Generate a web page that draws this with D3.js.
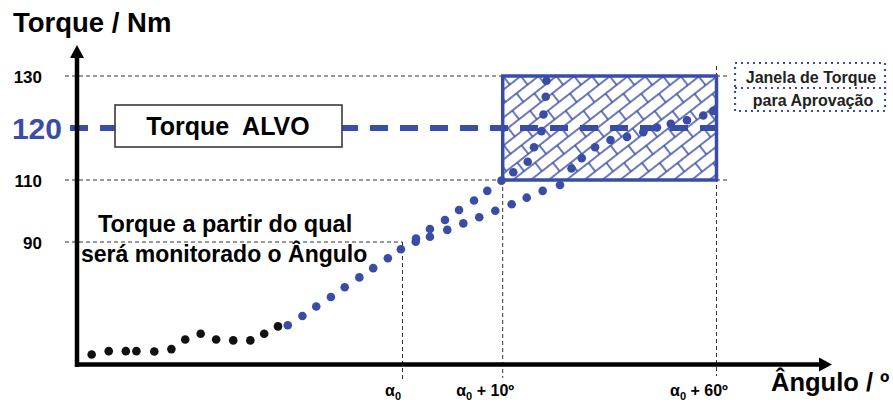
<!DOCTYPE html>
<html><head><meta charset="utf-8">
<script src="https://cdn.jsdelivr.net/npm/d3@7"></script>
<style>
html,body{margin:0;padding:0;background:#fff;}
svg text{font-family:"Liberation Sans",Arial,sans-serif;font-weight:bold;}
</style></head>
<body><svg id="chart" width="893" height="406"></svg>
<script>
// ---- data ----
const blackAngle  = [-38.2,-36.1,-34.0,-32.7,-30.5,-28.4,-26.7,-24.8,-22.9,-20.8,-18.7,-17.0,-15.3];
const blackTorque = [7.4,9.8,9.8,9.8,9.6,11.3,18.4,22.6,18.4,17.7,17.7,22.6,28.0];
const rampAngle   = [-14.1,-12.3,-10.6,-8.8,-7.1,-5.3,-3.6,-1.8,-0.2];
const rampTorque  = [28.8,35.6,42.6,49.6,56.8,64.0,70.8,78.1,84.7];
const upperAngle  = [1.35,2.74,4.24,5.64,7.14,8.46,9.88,12.48,15.85,17.32,19.07,19.54,20.06,20.24];
const upperTorque = [91.1,94.2,97.1,100.3,103.4,106.5,109.8,111.5,113.5,116.3,119.4,122.6,126.0,129.1];
const lowerAngle  = [1.32,2.74,4.47,6.07,7.66,9.26,12.10,15.61,19.35,23.40,26.09,28.48,31.59,35.21,39.07,42.88,46.08,49.31,53.10,56.91,59.25];
const lowerTorque = [90.1,91.7,93.9,96.0,98.0,100.1,102.2,104.3,106.5,108.4,112.2,114.2,116.3,117.7,118.3,119.2,120.1,120.8,121.5,122.4,123.3];
const yTicks = [90,110,120,130];
const targetTorque = 120;
const monitorTorque = 90;
const windowAngle = [10,60];
const windowTorque = [110,130];
const xTicks = [0,10,60];
const xTickSuffix = [""," + 10º"," + 60º"];

// ---- scales ----
const BLUE = "#3a4da6";
const svg = d3.select("#chart");
const x = d3.scaleLinear().domain([-40,0,10,60]).range([77,402.5,502.7,716.5]);
const y = d3.scaleLinear().domain([0,90,110,130]).range([364.5,242,180,76]);

// ---- pattern (diagonal brick) ----
const defs = svg.append("defs");
const L = 28, H = 11;
const pat = defs.append("pattern").attr("id","brick").attr("patternUnits","userSpaceOnUse")
  .attr("width",L).attr("height",2*H).attr("patternTransform","translate(503,76) rotate(-38)");
pat.append("rect").attr("width",L).attr("height",2*H).attr("fill","#fff");
pat.append("path").attr("fill","none").attr("stroke",BLUE).attr("stroke-width",1.5)
  .attr("d",`M-1,0H${L+1}M-1,${H}H${L+1}M-1,${2*H}H${L+1}M0,0V${H}M${L},0V${H}M${L/2},${H}V${2*H}`);

// ---- gridlines ----
const grid = svg.append("g").attr("stroke","#333").attr("stroke-width",1).attr("stroke-dasharray","4,3").attr("fill","none");
grid.append("line").attr("x1",65).attr("x2",730).attr("y1",y(130)).attr("y2",y(130));
grid.append("line").attr("x1",65).attr("x2",728).attr("y1",y(110)).attr("y2",y(110));
grid.append("line").attr("x1",65).attr("x2",x(0)).attr("y1",y(monitorTorque)).attr("y2",y(monitorTorque));
grid.append("line").attr("x1",x(0)).attr("x2",x(0)).attr("y1",y(monitorTorque)).attr("y2",382);
grid.append("line").attr("x1",x(10)).attr("x2",x(10)).attr("y1",y(110)).attr("y2",378);
grid.append("line").attr("x1",x(60)).attr("x2",x(60)).attr("y1",66).attr("y2",376);

// ---- approval window fill ----
svg.append("rect").attr("x",x(windowAngle[0])).attr("y",y(windowTorque[1]))
  .attr("width",x(windowAngle[1])-x(windowAngle[0])).attr("height",y(windowTorque[0])-y(windowTorque[1]))
  .attr("fill","url(#brick)");

// ---- target line ----
svg.append("line").attr("x1",70).attr("x2",x(60)).attr("y1",y(targetTorque)).attr("y2",y(targetTorque))
  .attr("stroke",BLUE).attr("stroke-width",6).attr("stroke-dasharray","18,12");

// ---- dots ----
function dots(ax, ty, color){
  svg.append("g").selectAll("circle").data(ax.map((a,i)=>[a,ty[i]])).join("circle")
    .attr("cx",d=>x(d[0])).attr("cy",d=>y(d[1])).attr("r",4.3).attr("fill",color);
}
dots(blackAngle,blackTorque,"#111");
dots(rampAngle,rampTorque,BLUE);
dots(upperAngle,upperTorque,BLUE);
dots(lowerAngle,lowerTorque,BLUE);

// ---- window border ----
svg.append("rect").attr("x",x(windowAngle[0])).attr("y",y(windowTorque[1]))
  .attr("width",x(windowAngle[1])-x(windowAngle[0])).attr("height",y(windowTorque[0])-y(windowTorque[1]))
  .attr("fill","none").attr("stroke",BLUE).attr("stroke-width",3.5);

// ---- axes lines with arrows ----
svg.append("line").attr("x1",77).attr("x2",77).attr("y1",367).attr("y2",56).attr("stroke","#000").attr("stroke-width",4.5);
svg.append("path").attr("d","M77,45L84,58L70,58Z").attr("fill","#000");
svg.append("line").attr("x1",75).attr("x2",820).attr("y1",364.5).attr("y2",364.5).attr("stroke","#000").attr("stroke-width",4.5);
svg.append("path").attr("d","M832,364.5L819,357.5L819,371.5Z").attr("fill","#000");

// ---- y axis ticks ----
const yAxis = svg.append("g").attr("transform","translate(45,0)")
  .call(d3.axisLeft(y).tickValues(yTicks).tickSize(0).tickPadding(3));
yAxis.select(".domain").remove();
yAxis.selectAll(".tick text").attr("fill","#000").attr("font-size",17)
  .attr("font-family","Liberation Sans, Arial, sans-serif").attr("font-weight","bold").attr("dy","0.4em");
yAxis.selectAll(".tick").filter(d=>d===targetTorque).select("text")
  .attr("fill",BLUE).attr("font-size",30).attr("x",17).attr("dy","0.35em");

// ---- x axis ticks ----
const xAxis = svg.append("g").attr("transform","translate(0,364.5)")
  .call(d3.axisBottom(x).tickValues(xTicks).tickSize(0).tickFormat(""));
xAxis.select(".domain").remove();
xAxis.selectAll(".tick").each(function(d,i){
  const t = d3.select(this).append("text").attr("fill","#000").attr("font-size",16)
    .attr("text-anchor", i===0 ? "end" : "middle").attr("x", i===0 ? -2 : -18).attr("y",31)
    .style("white-space","pre");
  t.append("tspan").text("α");
  t.append("tspan").attr("font-size",11).attr("dy",4).text("0");
  if(xTickSuffix[i]) t.append("tspan").attr("dy",-4).text(xTickSuffix[i]);
});

// ---- titles ----
svg.append("text").attr("x",13).attr("y",32).attr("font-size",27.5).text("Torque / Nm");
svg.append("text").attr("x",771).attr("y",391).attr("font-size",25.5).text("Ângulo / º");

// ---- target box ----
svg.append("rect").attr("x",115).attr("y",105).attr("width",227).attr("height",42)
  .attr("fill","#fff").attr("stroke","#3a3a3a").attr("stroke-width",1.6);
svg.append("text").attr("x",228).attr("y",135).attr("text-anchor","middle").attr("font-size",25)
  .style("white-space","pre").text("Torque  ALVO");

// ---- monitoring annotation ----
svg.append("text").attr("x",98).attr("y",232).attr("font-size",23.5).text("Torque a partir do qual");
svg.append("text").attr("x",81).attr("y",262).attr("font-size",23).text("será monitorado o Ângulo");

// ---- window label ----
const lab = svg.append("g");
lab.append("rect").attr("x",735).attr("y",63).attr("width",150).attr("height",48)
  .attr("fill","none").attr("stroke",BLUE).attr("stroke-width",2.2).attr("stroke-dasharray","2,4");
lab.append("line").attr("x1",735).attr("x2",885).attr("y1",88).attr("y2",88)
  .attr("stroke",BLUE).attr("stroke-width",2.2).attr("stroke-dasharray","2,4");
lab.append("text").attr("x",811).attr("y",83).attr("text-anchor","middle").attr("font-size",16).attr("fill","#222").text("Janela de Torque");
lab.append("text").attr("x",813).attr("y",106).attr("text-anchor","middle").attr("font-size",16).attr("fill","#222").text("para Aprovação");
</script></body></html>
